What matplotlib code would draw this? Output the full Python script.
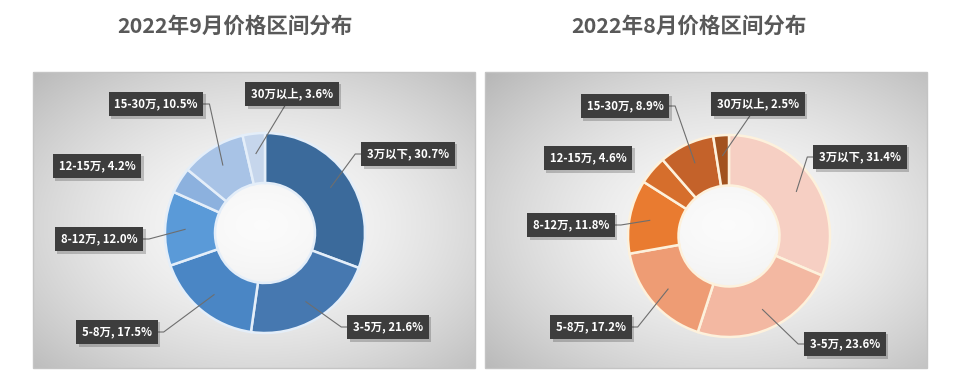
import numpy as np
import matplotlib
matplotlib.use("Agg")
import matplotlib.pyplot as plt

plt.rcParams['font.family'] = ['Noto Sans CJK SC', 'DejaVu Sans']

# ---------------- data ----------------
categories = ['3万以下', '3-5万', '5-8万', '8-12万', '12-15万', '15-30万', '30万以上']
sep_values = [30.7, 21.6, 17.5, 12.0, 4.2, 10.5, 3.6]
aug_values = [31.4, 23.6, 17.2, 11.8, 4.6, 8.9, 2.5]
sep_title = '2022年9月价格区间分布'
aug_title = '2022年8月价格区间分布'

sep_colors = ['#3b6a9b', '#4678b0', '#4a86c5', '#5a9ad8', '#8cb1de', '#a8c3e6', '#c6d6ec']
aug_colors = ['#f6cfc3', '#f3b8a2', '#ee9c74', '#e97b30', '#d66e2c', '#c4622a', '#a2521e']

W, H = 960, 380
fig = plt.figure(figsize=(W / 100, H / 100), dpi=100)
fig.patch.set_facecolor('white')
ax = fig.add_axes([0, 0, 1, 1])
ax.set_xlim(0, W)
ax.set_ylim(0, H)
ax.axis('off')


def Y(y):
    return H - y


def panel_bg(x0, x1, y0, y1, gcx, gcy):
    nx, ny = 300, 200
    xs = np.linspace(x0, x1, nx)
    ys = np.linspace(y0, y1, ny)
    XX, YY = np.meshgrid(xs, ys)
    d = np.sqrt(((XX - gcx) / (x1 - x0) * 1.6) ** 2 + ((YY - gcy) / (y1 - y0) * 1.6) ** 2)
    v = 0.985 - 0.2 * np.clip(d, 0, 1.3) ** 1.6
    img = np.dstack([v, v, v])
    ax.imshow(img, extent=(x0, x1, Y(y1), Y(y0)), origin='upper', zorder=0,
              aspect='auto', interpolation='bilinear')
    ax.add_patch(plt.Rectangle((x0, Y(y1)), x1 - x0, y1 - y0, fill=False,
                               edgecolor='#c4c4c4', linewidth=1.0, zorder=1))


def donut(values, colors, edge, cx, cy, R, labels, title, tx):
    ax.text(tx, Y(26), title, ha='center', va='center', fontsize=15.5,
            fontweight='bold', color='#595959', zorder=5)
    wedges, _ = ax.pie(values, colors=colors, startangle=90, counterclock=False,
                       center=(cx, Y(cy)), radius=R, frame=True,
                       wedgeprops=dict(width=R * 0.5, edgecolor=edge, linewidth=1.8))
    for w in wedges:
        w.set_zorder(3)
    total = sum(values)
    cum = 0.0
    fig.canvas.draw()
    rend = fig.canvas.get_renderer()
    for i, (cat, v) in enumerate(zip(categories, values)):
        mid = (cum + v / 2) / total * 360.0
        cum += v
        lx, ly, side = labels[i]
        txt = ax.text(lx, Y(ly), f'{cat}, {v:.1f}%', ha='center', va='center',
                      fontsize=8.2, fontweight='bold', color='white', zorder=8,
                      bbox=dict(boxstyle='square,pad=0.5', facecolor='#3d3d3d',
                                edgecolor='none'))
        fig.canvas.draw()
        bb = txt.get_bbox_patch().get_window_extent(rend)
        inv = ax.transData.inverted()
        (bx0, by0), (bx1, by1) = inv.transform([[bb.x0, bb.y0], [bb.x1, bb.y1]])
        # drop shadow
        ax.add_patch(plt.Rectangle((bx0 + 2.5, by0 - 2.5), bx1 - bx0, by1 - by0,
                                   facecolor=(0, 0, 0, 0.2), edgecolor='none', zorder=7))
        if side is None:
            continue
        bcy = (by0 + by1) / 2
        a = np.deg2rad(mid)
        ax_ = cx + 0.8 * R * np.sin(a)
        ay_ = Y(cy) + 0.8 * R * np.cos(a)
        if side == 'L':       # box to the left, attach to right edge
            xs = [ax_, bx1 + 6, bx1]
            ys = [ay_, bcy, bcy]
        elif side == 'R':     # box to the right, attach to left edge
            xs = [ax_, bx0 - 6, bx0]
            ys = [ay_, bcy, bcy]
        else:                 # box above, attach to bottom edge
            bx = (bx0 + bx1) / 2
            t = (by0 - ay_) / ((by0 + by1) / 2 - ay_)
            xs = [ax_, ax_ + t * (bx - ax_)]
            ys = [ay_, by0]
        ax.plot(xs, ys, color='#6e6e6e', linewidth=0.8, zorder=4)


panel_bg(33, 475, 72, 368, 262, 225)
panel_bg(485, 927, 72, 368, 728, 225)

sep_labels = [(408, 154, 'R'), (388, 327, 'R'), (117, 332, 'L'), (99, 239, 'L'),
              (97, 166, None), (156, 104, 'L'), (292, 94, 'B')]
aug_labels = [(860, 157, 'R'), (845, 344, 'R'), (591, 327, 'L'), (571, 225, 'L'),
              (588, 158, None), (625, 106, 'L'), (758, 104, 'B')]

donut(sep_values, sep_colors, '#e4eef9', 265, 233, 100, sep_labels, sep_title, 235)
donut(aug_values, aug_colors, '#fdf1dc', 729, 236, 101, aug_labels, aug_title, 689)

ax.set_xlim(0, W)
ax.set_ylim(0, H)
ax.set_aspect('auto')
ax.axis('off')

fig.savefig('out.png', dpi=100, facecolor='white')
